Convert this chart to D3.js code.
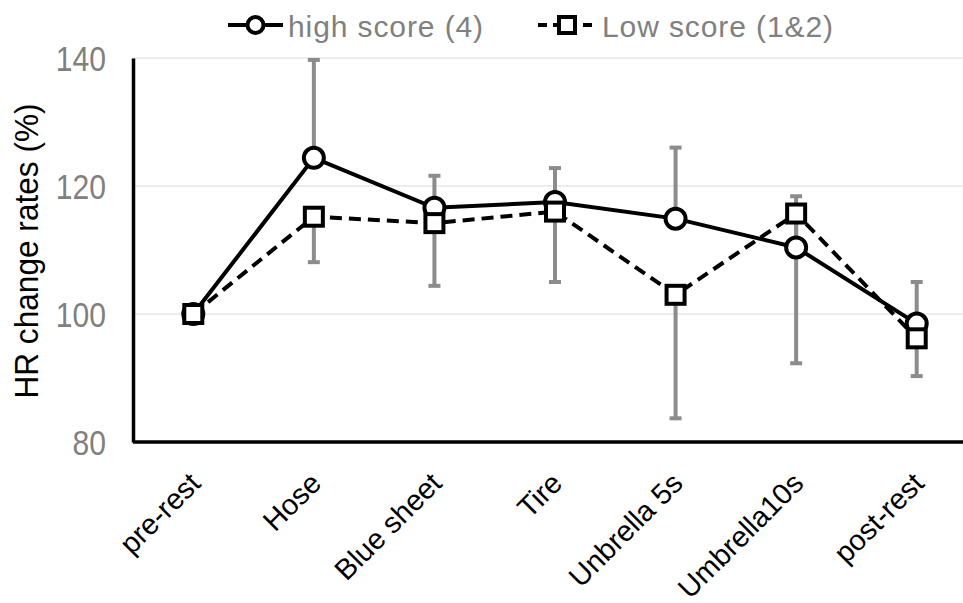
<!DOCTYPE html>
<html>
<head>
<meta charset="utf-8">
<script src="https://cdn.jsdelivr.net/npm/d3@7"></script>
<style>
    html, body { margin: 0; padding: 0; background: #fff; }
    svg { display: block; }
</style>
</head>
<body>
<div id="vis"></div>
<script>
// data
var categories = ['pre-rest', 'Hose', 'Blue sheet', 'Tire', 'Unbrella 5s', 'Umbrella10s', 'post-rest'];
var highScore = [100, 124.4, 116.6, 117.5, 114.9, 110.4, 98.5];
var highErrUp = [0, 15.3, 5.0, 5.3, 11.1, 8.0, 6.5];
var lowScore = [100, 115.2, 114.2, 116.0, 103.0, 115.7, 96.2];
var lowErrDown = [0, 7.1, 9.8, 11.0, 19.3, 23.4, 5.9];
var yTicks = [80, 100, 120, 140];
var seriesNames = ['high score (4)', 'Low score (1&2)'];

var width = 963, height = 603;
var sans = '"Liberation Sans", Arial, sans-serif';

var svg = d3.select('#vis')
    .append('svg')
        .attr('width', width)
        .attr('height', height);

var x = d3.scaleBand()
    .domain(categories)
    .range([133, 977])
    .paddingInner(0)
    .paddingOuter(0);

var y = d3.scaleLinear()
    .domain([80, 140])
    .range([442, 58]);

function cx(d, i) { return x(categories[i]) + x.bandwidth() / 2; }

// gridlines
svg.append('g')
    .selectAll('line')
    .data(yTicks.filter(function(t) { return t > 80; }))
    .enter().append('line')
        .attr('x1', 133)
        .attr('x2', width)
        .attr('y1', function(d) { return y(d); })
        .attr('y2', function(d) { return y(d); })
        .attr('stroke', '#d9d9d9')
        .attr('stroke-width', 1.2);

// y axis (labels drawn squeezed, the original font is a narrow one)
var yAxis = svg.append('g')
    .attr('transform', 'translate(133,0)')
    .call(d3.axisLeft(y).tickValues(yTicks).tickSize(0).tickFormat(''));
yAxis.select('.domain')
    .attr('stroke', '#000')
    .attr('stroke-width', 3.5);

svg.append('g')
    .selectAll('text')
    .data(yTicks)
    .enter().append('text')
        .attr('transform', function(d) { return 'translate(106,' + y(d) + ') scale(0.86,1)'; })
        .attr('dy', '0.36em')
        .attr('text-anchor', 'end')
        .attr('font-family', sans)
        .attr('font-size', 35)
        .attr('fill', '#808080')
        .text(function(d) { return d; });

// x axis line
svg.append('line')
    .attr('x1', 133)
    .attr('x2', width)
    .attr('y1', y(80))
    .attr('y2', y(80))
    .attr('stroke', '#000')
    .attr('stroke-width', 3.5);

// category labels, rotated
svg.append('g')
    .selectAll('text')
    .data(categories)
    .enter().append('text')
        .attr('transform', function(d, i) { return 'translate(' + (cx(d, i) + 9) + ',485) rotate(-45)'; })
        .attr('text-anchor', 'end')
        .attr('font-family', sans)
        .attr('font-size', 29)
        .attr('fill', '#000')
        .text(function(d) { return d; });

// y title
svg.append('text')
    .attr('transform', 'translate(38,251) rotate(-90) scale(0.93,1)')
    .attr('text-anchor', 'middle')
    .attr('font-family', sans)
    .attr('font-size', 34)
    .attr('fill', '#000')
    .text('HR change rates (%)');

// error bars
function errorBars(vals, ends)
{
    var g = svg.append('g')
        .attr('stroke', '#8c8c8c')
        .attr('stroke-width', 4);
    vals.forEach(function(v, i) {
        if(v === ends[i]) return;
        var px = cx(null, i);
        g.append('line')
            .attr('x1', px).attr('x2', px)
            .attr('y1', y(v)).attr('y2', y(ends[i]));
        g.append('line')
            .attr('x1', px - 6).attr('x2', px + 6)
            .attr('y1', y(ends[i])).attr('y2', y(ends[i]));
    });
}
errorBars(highScore, highScore.map(function(v, i) { return v + highErrUp[i]; }));
errorBars(lowScore, lowScore.map(function(v, i) { return v - lowErrDown[i]; }));

var line = d3.line()
    .x(function(d, i) { return cx(d, i); })
    .y(function(d) { return y(d); });

// high score series
svg.append('path')
    .datum(highScore)
    .attr('d', line)
    .attr('fill', 'none')
    .attr('stroke', '#000')
    .attr('stroke-width', 4);
svg.append('g')
    .selectAll('circle')
    .data(highScore)
    .enter().append('circle')
        .attr('cx', cx)
        .attr('cy', function(d) { return y(d); })
        .attr('r', 10)
        .attr('fill', '#fff')
        .attr('stroke', '#000')
        .attr('stroke-width', 4);

// low score series
svg.append('path')
    .datum(lowScore)
    .attr('d', line)
    .attr('fill', 'none')
    .attr('stroke', '#000')
    .attr('stroke-width', 4)
    .attr('stroke-dasharray', '12,7');
svg.append('g')
    .selectAll('rect')
    .data(lowScore)
    .enter().append('rect')
        .attr('x', function(d, i) { return cx(d, i) - 9; })
        .attr('y', function(d) { return y(d) - 9; })
        .attr('width', 18)
        .attr('height', 18)
        .attr('fill', '#fff')
        .attr('stroke', '#000')
        .attr('stroke-width', 4);

// legend
var legend = svg.append('g');
var legendItems = [
    { name: seriesNames[0], x0: 228, x1: 283, dash: null, marker: 'circle', tx: 288 },
    { name: seriesNames[1], x0: 538, x1: 596, dash: '9,6', marker: 'square', tx: 602 }
];
legendItems.forEach(function(it) {
    var mid = (it.x0 + it.x1) / 2;
    legend.append('line')
        .attr('x1', it.x0).attr('x2', it.x1)
        .attr('y1', 25).attr('y2', 25)
        .attr('stroke', '#000')
        .attr('stroke-width', 4)
        .attr('stroke-dasharray', it.dash);
    if(it.marker === 'circle')
    {
        legend.append('circle')
            .attr('cx', mid).attr('cy', 25).attr('r', 8)
            .attr('fill', '#fff').attr('stroke', '#000').attr('stroke-width', 4);
    }
    else
    {
        legend.append('rect')
            .attr('x', mid - 8).attr('y', 17).attr('width', 16).attr('height', 16)
            .attr('fill', '#fff').attr('stroke', '#000').attr('stroke-width', 4);
    }
    legend.append('text')
        .attr('x', it.tx)
        .attr('y', 37)
        .attr('font-family', sans)
        .attr('font-size', 30)
        .attr('letter-spacing', 0.9)
        .attr('fill', '#808080')
        .text(it.name);
});
</script>
</body>
</html>
